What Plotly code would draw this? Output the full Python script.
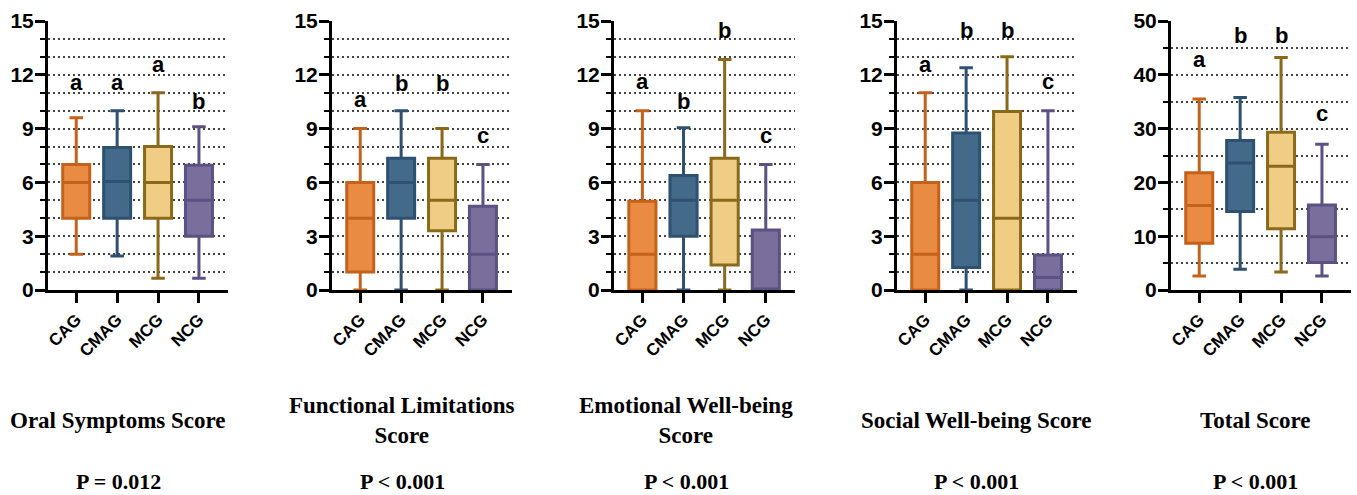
import plotly.graph_objects as go

categories = ["CAG", "CMAG", "MCG", "NCG"]

# ---- Oral Symptoms Score ----
oral_low = [2.0, 1.9, 0.65, 0.65]
oral_q1 = [4.0, 4.0, 4.0, 3.0]
oral_med = [6.0, 6.05, 6.0, 5.0]
oral_q3 = [7.0, 7.95, 8.0, 6.95]
oral_high = [9.6, 10.0, 11.0, 9.1]
oral_sig = ["a", "a", "a", "b"]
oral_sig_y = [11.1, 11.1, 12.1, 10.05]

# ---- Functional Limitations Score ----
func_low = [0.0, 0.0, 0.0, 0.0]
func_q1 = [1.0, 4.0, 3.3, 0.0]
func_med = [4.0, 6.0, 5.0, 2.0]
func_q3 = [6.0, 7.35, 7.35, 4.67]
func_high = [9.0, 10.0, 9.0, 7.0]
func_sig = ["a", "b", "b", "c"]
func_sig_y = [10.15, 11.05, 11.05, 8.15]

# ---- Emotional Well-being Score ----
emo_low = [0.0, 0.0, 0.0, 0.0]
emo_q1 = [0.0, 3.0, 1.4, 0.0]
emo_med = [2.0, 5.0, 5.0, 0.0]
emo_q3 = [4.95, 6.38, 7.35, 3.35]
emo_high = [10.0, 9.05, 12.85, 7.0]
emo_sig = ["a", "b", "b", "c"]
emo_sig_y = [11.15, 10.05, 14.0, 8.15]

# ---- Social Well-being Score ----
soc_low = [0.0, 0.0, 0.0, 0.0]
soc_q1 = [0.0, 1.25, 0.0, 0.0]
soc_med = [2.0, 5.0, 4.0, 0.7]
soc_q3 = [6.0, 8.75, 9.95, 1.95]
soc_high = [11.0, 12.4, 13.0, 10.0]
soc_sig = ["a", "b", "b", "c"]
soc_sig_y = [12.1, 14.0, 14.0, 11.15]

# ---- Total Score ----
tot_low = [2.6, 3.85, 3.35, 2.6]
tot_q1 = [8.7, 14.6, 11.4, 5.1]
tot_med = [15.7, 23.6, 23.0, 9.9]
tot_q3 = [21.8, 27.8, 29.3, 15.8]
tot_high = [35.5, 35.8, 43.2, 27.1]
tot_sig = ["a", "b", "b", "c"]
tot_sig_y = [41.2, 45.8, 45.8, 31.3]

titles = ["Oral Symptoms Score", "Functional Limitations<br>Score",
          "Emotional Well-being<br>Score", "Social Well-being Score", "Total Score"]
p_values = ["P = 0.012", "P < 0.001", "P < 0.001", "P < 0.001", "P < 0.001"]

y_max = [15, 15, 15, 15, 50]
y_major = [3, 3, 3, 3, 10]
y_minor = [1, 1, 1, 1, 5]

panels = [
    (oral_low, oral_q1, oral_med, oral_q3, oral_high, oral_sig, oral_sig_y),
    (func_low, func_q1, func_med, func_q3, func_high, func_sig, func_sig_y),
    (emo_low, emo_q1, emo_med, emo_q3, emo_high, emo_sig, emo_sig_y),
    (soc_low, soc_q1, soc_med, soc_q3, soc_high, soc_sig, soc_sig_y),
    (tot_low, tot_q1, tot_med, tot_q3, tot_high, tot_sig, tot_sig_y),
]

fill_colors = ["#E98B42", "#446A8A", "#EFCD84", "#7A6E9C"]
line_colors = ["#C4621C", "#2E5172", "#8A6A1A", "#5C5182"]

W, H = 1357, 495
x_px = [(48, 228), (332, 512), (614, 795), (897, 1077), (1171, 1351)]
title_cx = [118, 402, 686, 976, 1255]
y_dom = [1 - 290 / H, 1 - 21 / H]

fig = go.Figure()
layout = dict(width=W, height=H, margin=dict(l=0, r=0, t=0, b=0),
              plot_bgcolor="white", paper_bgcolor="white", showlegend=False)
annotations = []
BOLD_SANS = "Liberation Sans, Arial, sans-serif"
SERIF = "Liberation Serif, Times New Roman, serif"
GRID_DASH = "2px,3px"

for p, (low, q1, med, q3, high, sig, sig_y) in enumerate(panels):
    n = "" if p == 0 else str(p + 1)
    for i, cat in enumerate(categories):
        fig.add_trace(go.Box(
            x=[i], q1=[q1[i]], median=[med[i]], q3=[q3[i]],
            lowerfence=[low[i]], upperfence=[high[i]],
            width=0.66, whiskerwidth=0.5, boxpoints=False,
            fillcolor=fill_colors[i],
            line=dict(color=line_colors[i], width=3),
            name=cat, hoverinfo="skip",
            xaxis="x" + n, yaxis="y" + n,
        ))
        annotations.append(dict(
            x=i, y=sig_y[i], xref="x" + n, yref="y" + n, text=sig[i],
            showarrow=False, yanchor="bottom", yshift=-6,
            font=dict(family=BOLD_SANS, size=22, color="black", weight="bold"),
        ))
    x0, x1 = x_px[p]
    layout["xaxis" + n] = dict(
        domain=[x0 / W, x1 / W], range=[-0.69, 3.71], anchor="y" + n,
        tickvals=list(range(len(categories))), ticktext=categories,
        tickangle=-45, showline=True, linewidth=3, linecolor="black",
        ticks="outside", ticklen=10, tickwidth=3, tickcolor="black",
        showgrid=False, zeroline=False, automargin=False,
        tickfont=dict(family=BOLD_SANS, size=17, color="black", weight="bold"),
    )
    layout["yaxis" + n] = dict(
        domain=y_dom, range=[0, y_max[p]], anchor="x" + n,
        tickvals=list(range(0, y_max[p] + 1, y_major[p])),
        showline=True, linewidth=3, linecolor="black",
        ticks="outside", ticklen=10, tickwidth=3, tickcolor="black",
        showgrid=True, gridcolor="#444444", gridwidth=1.5, griddash=GRID_DASH,
        zeroline=False, automargin=False, ticklabelstandoff=-3,
        tickfont=dict(family=BOLD_SANS, size=21, color="black", weight="bold"),
        minor=dict(dtick=y_minor[p], ticks="outside", ticklen=5, tickwidth=2,
                   tickcolor="black", showgrid=True, gridcolor="#444444",
                   gridwidth=1.5, griddash=GRID_DASH),
    )
    annotations.append(dict(
        x=title_cx[p] / W, y=1 - 420 / H, xref="paper", yref="paper",
        text=titles[p], showarrow=False, yanchor="middle", xanchor="center",
        font=dict(family=SERIF, size=23, color="black", weight="bold"),
    ))
    annotations.append(dict(
        x=title_cx[p] / W, y=1 - 481 / H, xref="paper", yref="paper",
        text=p_values[p], showarrow=False, yanchor="middle", xanchor="center",
        font=dict(family=SERIF, size=22, color="black", weight="bold"),
    ))

layout["annotations"] = annotations
fig.update_layout(**layout)
fig.write_html("out.html", config={"displayModeBar": False},
               post_script="document.body.style.margin='0';document.body.style.overflow='hidden';")
